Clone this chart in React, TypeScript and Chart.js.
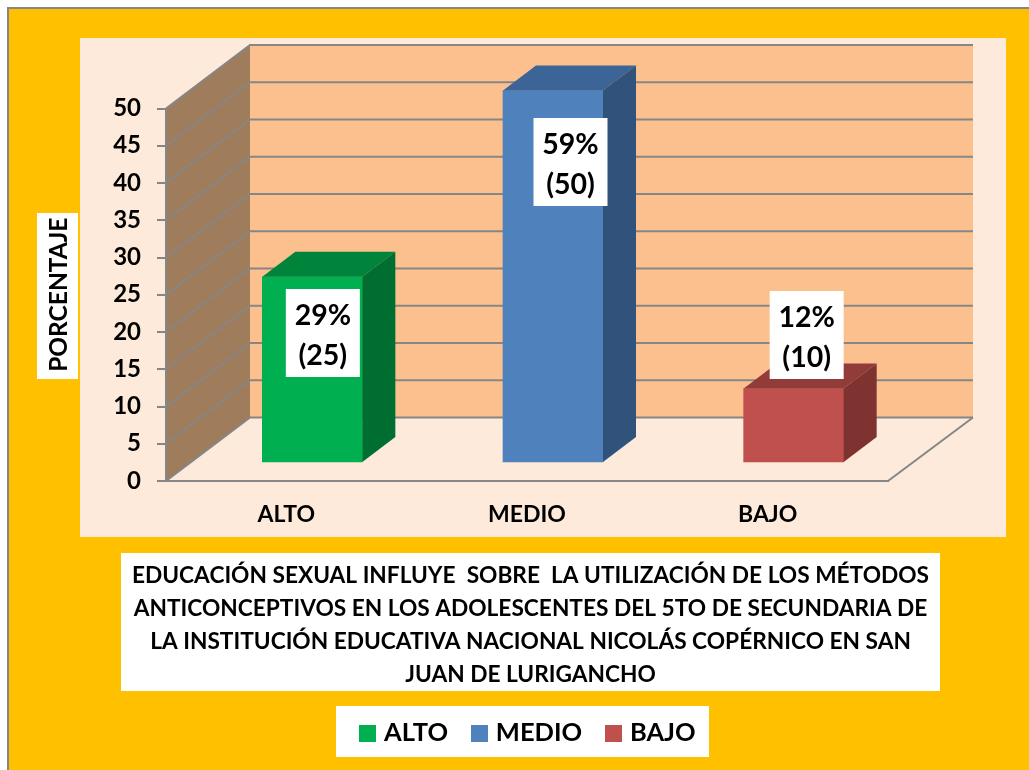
import React, { useEffect, useRef } from "react";
import { Chart, registerables } from "chart.js";

Chart.register(...registerables);

const categories = ["ALTO", "MEDIO", "BAJO"];
const counts = [25, 50, 10];
const percents = ["29%", "59%", "12%"];
const countLabels = ["(25)", "(50)", "(10)"];
const titleLines = [
  "EDUCACIÓN SEXUAL INFLUYE  SOBRE  LA UTILIZACIÓN DE LOS MÉTODOS",
  "ANTICONCEPTIVOS EN LOS ADOLESCENTES DEL 5TO DE SECUNDARIA DE",
  "LA INSTITUCIÓN EDUCATIVA NACIONAL NICOLÁS COPÉRNICO EN SAN",
  "JUAN DE LURIGANCHO",
];
const yAxisTitle = "PORCENTAJE";

const frontColors = ["#00B050", "#4F81BD", "#C0504D"];
const topColors = ["#00843C", "#3C6496", "#923C3A"];
const sideColors = ["#006E31", "#30527B", "#7E3331"];
const labelOffsets = [
  { dx: 10.5, top: 289 },
  { dx: 17.5, top: 118 },
  { dx: 13, top: 291 },
];

const FONT = "Lato, Carlito, Calibri, sans-serif";
const GRID = "#868686";

const swatch = (color: string) => {
  const c = document.createElement("canvas");
  c.width = 17;
  c.height = 17;
  const g = c.getContext("2d")!;
  g.fillStyle = color;
  g.fillRect(0, 0, 17, 17);
  return c;
};

const scene3d = {
  id: "scene3d",
  afterLayout(chart: any) {
    chart.titleBlock.left = 121;
    chart.titleBlock.right = 940;
  },
  beforeDraw(chart: any) {
    const { ctx, scales } = chart;
    const y = scales.y;
    const { left, right, bottom, top } = chart.chartArea;
    const dx = 84;
    const dy = 63.5;
    ctx.save();
    ctx.fillStyle = "#FFFFFF";
    ctx.fillRect(0, 0, chart.width, chart.height);
    ctx.fillStyle = "#FFC000";
    ctx.fillRect(8, 8, chart.width - 8, chart.height - 8);
    ctx.strokeStyle = "#868686";
    ctx.lineWidth = 2;
    ctx.beginPath();
    ctx.moveTo(8, chart.height);
    ctx.lineTo(8, 8);
    ctx.lineTo(chart.width, 8);
    ctx.stroke();

    ctx.fillStyle = "#FDEADA";
    ctx.fillRect(80, 38, 926, 499);
    ctx.fillStyle = "#FFFFFF";
    ctx.fillRect(37, 213, 41, 166);
    ctx.fillRect(121, 553, 819, 138);
    ctx.fillRect(336, 706, 373, 51);

    // side wall
    ctx.fillStyle = "#9F7C5C";
    ctx.beginPath();
    ctx.moveTo(left, top);
    ctx.lineTo(left + dx, top - dy);
    ctx.lineTo(left + dx, bottom - dy);
    ctx.lineTo(left, bottom);
    ctx.closePath();
    ctx.fill();
    // back wall
    ctx.fillStyle = "#FBC08D";
    ctx.fillRect(left + dx, top - dy, right + dx + 1 - (left + dx), bottom - top);

    ctx.strokeStyle = GRID;
    ctx.lineWidth = 2;
    y.ticks.forEach((t: any) => {
      const py = y.getPixelForValue(t.value);
      ctx.beginPath();
      ctx.moveTo(left, py);
      ctx.lineTo(left + dx, py - dy);
      ctx.lineTo(right + dx + 1, py - dy);
      ctx.stroke();
    });
    // floor outline
    ctx.beginPath();
    ctx.moveTo(right + dx + 1, bottom - dy);
    ctx.lineTo(right, bottom);
    ctx.stroke();
    ctx.restore();
  },
  beforeDatasetsDraw(chart: any) {
    chart.ctx.save();
    chart.ctx.translate(26, -18);
  },
  afterDatasetsDraw(chart: any) {
    const { ctx } = chart;
    const bars = chart.getDatasetMeta(0).data;
    const ddx = 33;
    const ddy = 25;
    bars.forEach((b: any, i: number) => {
      const l = b.x - b.width / 2;
      const r = b.x + b.width / 2;
      ctx.fillStyle = topColors[i];
      ctx.beginPath();
      ctx.moveTo(l, b.y);
      ctx.lineTo(l + ddx, b.y - ddy);
      ctx.lineTo(r + ddx, b.y - ddy);
      ctx.lineTo(r, b.y);
      ctx.closePath();
      ctx.fill();
      ctx.fillStyle = sideColors[i];
      ctx.beginPath();
      ctx.moveTo(r, b.y);
      ctx.lineTo(r + ddx, b.y - ddy);
      ctx.lineTo(r + ddx, b.base - ddy);
      ctx.lineTo(r, b.base);
      ctx.closePath();
      ctx.fill();
    });
    ctx.restore();

    // white data labels
    ctx.save();
    ctx.textAlign = "center";
    ctx.textBaseline = "middle";
    ctx.font = `bold 28.5px ${FONT}`;
    bars.forEach((b: any, i: number) => {
      const cx = b.x + 26 + labelOffsets[i].dx;
      const top = labelOffsets[i].top;
      ctx.fillStyle = "#FFFFFF";
      ctx.fillRect(cx - 37, top, 74, 88);
      ctx.fillStyle = "#000000";
      ctx.fillText(percents[i], cx, top + 27);
      ctx.fillText(countLabels[i], cx, top + 67);
    });
    ctx.restore();
  },
};

export default function App() {
  const ref = useRef<HTMLCanvasElement>(null);
  useEffect(() => {
    const chart = new Chart(ref.current!, {
      type: "bar",
      plugins: [scene3d],
      data: {
        labels: categories,
        datasets: [
          {
            data: counts,
            backgroundColor: frontColors,
            borderWidth: 0,
            barThickness: 100,
            clip: false,
          } as any,
        ],
      },
      options: {
        animation: false,
        responsive: false,
        events: [],
        layout: { padding: { left: 34, right: 3, top: 108.5, bottom: 14 } },
        scales: {
          x: {
            afterFit(s: any) {
              s.height = 74;
              s.paddingLeft = 0;
              s.paddingRight = 0;
            },
            grid: { display: true, drawOnChartArea: false, drawTicks: false },
            border: { color: GRID, width: 2 },
            ticks: {
              color: "#000",
              padding: 20,
              maxRotation: 0,
              font: { family: FONT, weight: "bold", size: 23 },
            },
          },
          y: {
            min: 0,
            max: 50,
            afterFit(s: any) {
              s.width = 132;
              s.paddingTop = 0;
              s.paddingBottom = 0;
            },
            grid: { drawOnChartArea: false, drawTicks: true, tickLength: 9, color: GRID, lineWidth: 2 },
            border: { color: GRID, width: 2 },
            ticks: {
              stepSize: 5,
              color: "#000",
              padding: 16,
              font: { family: FONT, weight: "bold", size: 24 },
            },
            title: {
              display: true,
              text: yAxisTitle,
              color: "#000",
              padding: { top: 10, bottom: 0 },
              font: { family: FONT, weight: "bold", size: 24.5, lineHeight: 30 / 24.5 },
            },
          },
          yPad: {
            type: "linear",
            position: "right",
            min: 0,
            max: 1,
            afterFit(s: any) {
              s.width = 138;
              s.paddingTop = 0;
              s.paddingBottom = 0;
            },
            grid: { display: false },
            border: { display: false },
            ticks: { display: false },
          },
        },
        plugins: {
          tooltip: { enabled: false },
          title: {
            display: true,
            position: "bottom",
            weight: 500,
            text: titleLines,
            color: "#000",
            padding: { top: 4.5, bottom: 1 },
            font: { family: FONT, weight: "bold", size: 22.7, lineHeight: 33 / 22.7 },
          },
          legend: {
            display: true,
            position: "bottom",
            labels: {
              usePointStyle: true,
              pointStyleWidth: 7,
              padding: 28,
              color: "#000",
              font: { family: FONT, weight: "bold", size: 25.5 },
              generateLabels: () =>
                categories.map((text, i) => ({
                  text,
                  fillStyle: frontColors[i],
                  strokeStyle: frontColors[i],
                  lineWidth: 0,
                  pointStyle: swatch(frontColors[i]),
                  hidden: false,
                  index: i,
                })),
            },
          },
        },
      } as any,
    });
    return () => chart.destroy();
  }, []);
  return (
    <div style={{ position: "absolute", left: 0, top: 0, width: 1029, height: 770 }}>
      <canvas ref={ref} width={1029} height={770} style={{ display: "block" }} />
    </div>
  );
}
